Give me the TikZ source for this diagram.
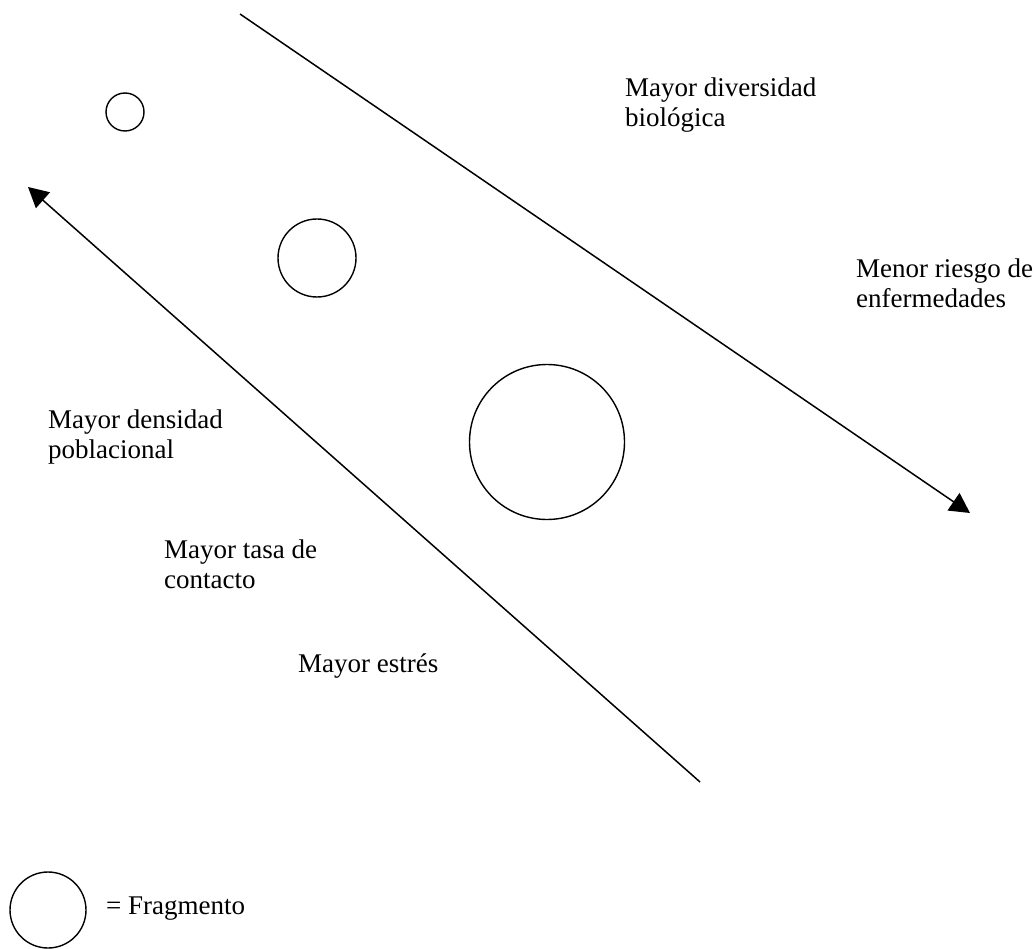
\documentclass[tikz,border=0pt]{standalone}
\usepackage{fontspec}
\setmainfont{Liberation Serif}
\usetikzlibrary{arrows.meta}
\begin{document}
\begin{tikzpicture}[x=1pt,y=-1pt,
  frag/.style={circle,draw,line width=1.4pt,inner sep=0pt},
  lbl/.style={anchor=base west,inner sep=0pt,align=left,font=\fontsize{27}{30}\selectfont},
  trend/.style={line width=1.5pt,-{Triangle[length=20pt,width=21pt]}}]
\useasboundingbox (0,0) rectangle (1035,949);
% fragments
\node[frag,minimum size=38pt] (f1) at (125,112) {};
\node[frag,minimum size=78pt] (f2) at (317,258) {};
\node[frag,minimum size=155pt] (f3) at (547,442) {};
% arrows
\coordinate (a1s) at (240,14);
\coordinate (a1e) at (970,513);
\coordinate (a2s) at (700,782);
\coordinate (a2e) at (28,187);
\draw[trend] (a1s) -- (a1e);
\draw[trend] (a2s) -- (a2e);
% labels (base = baseline of the last line)
\node[lbl] (t1) at (625,127) {Mayor diversidad\\biológica};
\node[lbl] (t2) at (856,308) {Menor riesgo de\\enfermedades};
\node[lbl] (t3) at (48,458) {Mayor densidad\\poblacional};
\node[lbl] (t4) at (164,588) {Mayor tasa de\\contacto};
\node[lbl] (t5) at (298,672) {Mayor estrés};
% legend
\node[frag,minimum size=76pt] (leg) at (48,910) {};
\node[lbl] (legt) at (106,914) {= Fragmento};
\end{tikzpicture}
\end{document}
